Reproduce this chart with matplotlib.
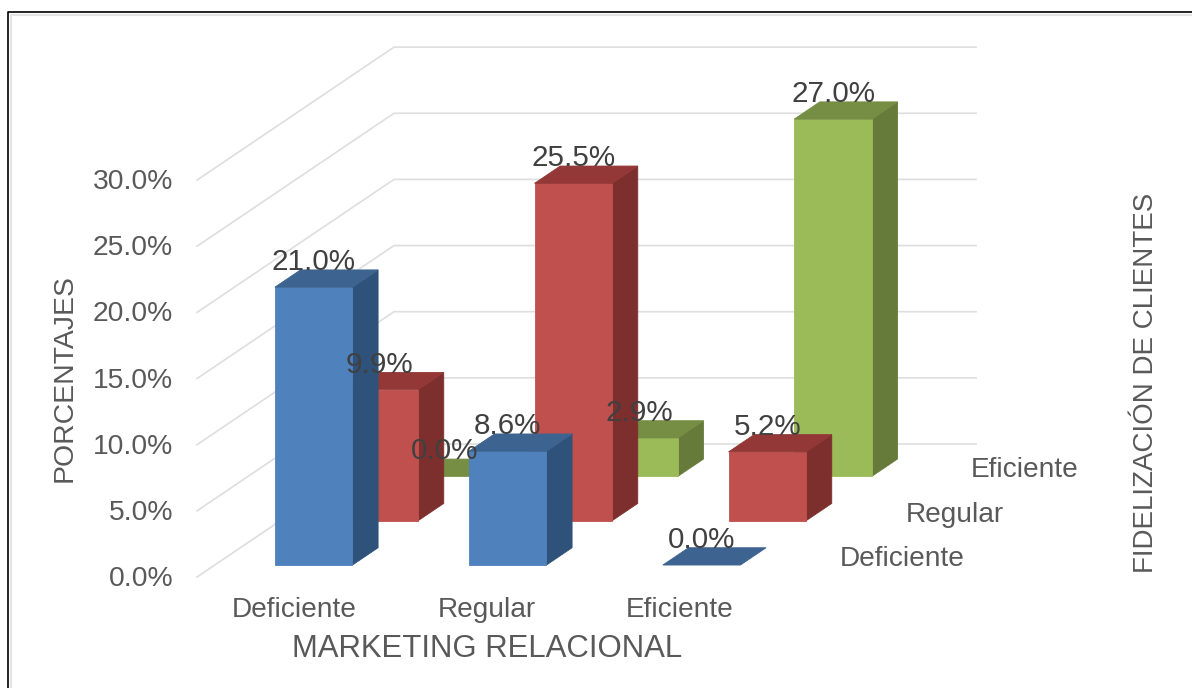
import numpy as np
import matplotlib
matplotlib.use("Agg")
from matplotlib import pyplot as plt
from matplotlib.patches import Polygon

plt.rcParams['font.family'] = ['Liberation Sans', 'DejaVu Sans']

# categories along the floor and along the depth
marketing = ["Deficiente", "Regular", "Eficiente"]
fidelizacion = ["Deficiente", "Regular", "Eficiente"]

# percentages, one list per depth row
row_deficiente = [21.0, 8.6, 0.0]
row_regular = [9.9, 25.5, 5.2]
row_eficiente = [0.0, 2.9, 27.0]

y_ticks = [0, 5, 10, 15, 20, 25, 30]

# face colours: front, side, top
blues = ("#4F81BD", "#2F527A", "#3D6391")
reds = ("#C0504D", "#7C2F2D", "#933836")
greens = ("#9BBB59", "#667A3A", "#758E43")

# oblique projection
X0, Y0 = 197, 577
CAT_W = 194
ROW_DX, ROW_DY = 65.67, -44.33
PER_PCT = 13.23


def proj(c, d, v):
    return (X0 + CAT_W * c + ROW_DX * d, Y0 + ROW_DY * d - PER_PCT * v)


fig = plt.figure(figsize=(11.92, 6.88), dpi=100)
ax = fig.add_axes([0, 0, 1, 1])
ax.set_xlim(0, 1192)
ax.set_ylim(688, 0)
ax.axis("off")

# border of the frame
ax.plot([8, 8, 1192], [688, 12, 12], color="black", lw=1.2, zorder=1)
ax.plot([10.5, 10.5, 1192], [688, 14.5, 14.5], color="#E4E4E4", lw=1.5, zorder=1)

# side wall and back wall gridlines
for v in y_ticks:
    pts = [proj(0, 0, v), proj(0, 3, v), proj(3, 3, v)]
    ax.plot(*zip(*pts), color="#DEDEDE", lw=1.2, zorder=2, solid_joinstyle="miter")
    ax.text(173, proj(0, 0, v)[1] + 2, "%.1f%%" % v, ha="right", va="center",
            fontsize=20.3, color="#595959")


def draw_bar(i, j, val, cols, z):
    c0, c1 = i + 0.31, i + 0.71
    d0, d1 = j + 0.27, j + 0.66
    front = [proj(c0, d0, 0), proj(c1, d0, 0), proj(c1, d0, val), proj(c0, d0, val)]
    side = [proj(c1, d0, 0), proj(c1, d1, 0), proj(c1, d1, val), proj(c1, d0, val)]
    top = [proj(c0, d0, val), proj(c1, d0, val), proj(c1, d1, val), proj(c0, d1, val)]
    if val > 0:
        ax.add_patch(Polygon(side, fc=cols[1], ec=cols[1], lw=0.6, zorder=z))
        ax.add_patch(Polygon(front, fc=cols[0], ec=cols[0], lw=0.6, zorder=z))
    ax.add_patch(Polygon(top, fc=cols[2], ec=cols[2], lw=0.6, zorder=z))
    # value label sits above the front face
    x, y = proj((c0 + c1) / 2, d0, val)
    ax.text(x, y - 25, "%.1f%%" % val, ha="center", va="center",
            fontsize=21.3, color="#404040", zorder=20)


# back row first so the front rows cover it
rows = [(2, row_eficiente, greens), (1, row_regular, reds), (0, row_deficiente, blues)]
z = 5
for j, vals, cols in rows:
    for i, val in enumerate(vals):
        draw_bar(i, j, val, cols, z)
        z += 1

# category names
for i, name in enumerate(marketing):
    x, _ = proj(i + 0.5, 0, 0)
    ax.text(x - i, 610, name, ha="center", va="center", fontsize=20.2, color="#595959")

for j, name in enumerate(fidelizacion):
    x, y = proj(3, j + 0.5, 0)
    ax.text(x + 28, y + 4, name, ha="left", va="center", fontsize=20.2, color="#595959")

# axis titles
ax.text(487, 649, "MARKETING RELACIONAL", ha="center", va="center",
        fontsize=22.4, color="#595959")
ax.text(65, 378, "PORCENTAJES", ha="center", va="center", rotation=90,
        fontsize=20.4, color="#595959")
ax.text(1146, 383, "FIDELIZACIÓN DE CLIENTES", ha="center", va="center", rotation=90,
        fontsize=20, color="#595959")

fig.savefig("out.png", dpi=100)
